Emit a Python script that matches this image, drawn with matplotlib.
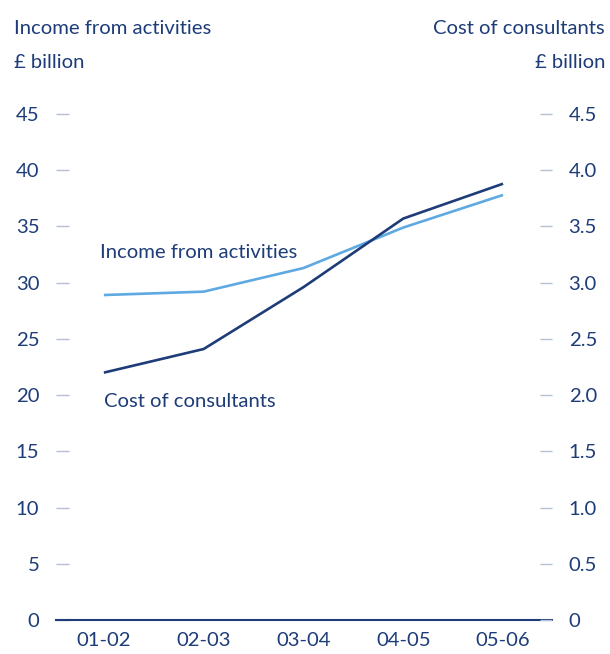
import matplotlib.pyplot as plt

years = ["01-02", "02-03", "03-04", "04-05", "05-06"]
income = [28.9, 29.2, 31.3, 34.9, 37.8]          # £ billion, left axis
consultants = [2.20, 2.41, 2.96, 3.57, 3.88]     # £ billion, right axis

left_ticks = [0, 5, 10, 15, 20, 25, 30, 35, 40, 45]
right_ticks = [0, 0.5, 1.0, 1.5, 2.0, 2.5, 3.0, 3.5, 4.0, 4.5]

NAVY = "#1d3c78"
LIGHT = "#5fa9e2"
TICK = "#b4c0d4"
FONT = "Lato"
FS = 14.6

plt.rcParams["font.family"] = [FONT, "DejaVu Sans"]

fig = plt.figure(figsize=(6.10, 6.54), dpi=100)
ax = fig.add_axes([0.0918, 0.052, 0.813, 0.7737])
ax2 = ax.twinx()

x = list(range(len(years)))
ax.plot(x, income, color=LIGHT, linewidth=1.9, solid_capstyle="butt")
ax2.plot(x, consultants, color=NAVY, linewidth=1.9, solid_capstyle="butt")

ax.set_xlim(-0.48, 4.49)
ax.set_ylim(0, 45)
ax2.set_ylim(0, 4.5)

ax.set_xticks(x)
ax.set_xticklabels(years)
ax.set_yticks(left_ticks)
ax.set_yticklabels([str(t) for t in left_ticks])
ax2.set_yticks(right_ticks)
ax2.set_yticklabels(["0"] + [f"{t:.1f}" for t in right_ticks[1:]])

for a in (ax, ax2):
    for side in ("top", "left", "right"):
        a.spines[side].set_visible(False)
    a.spines["bottom"].set_color(NAVY)
    a.spines["bottom"].set_linewidth(1.5)
    a.tick_params(axis="y", direction="in", length=9, width=1, color=TICK,
                  labelsize=FS, labelcolor=NAVY, pad=12)
ax.tick_params(axis="x", length=0, labelsize=FS, labelcolor=NAVY, pad=9)
ax2.spines["bottom"].set_visible(False)

# labels next to the lines
ax.text(-0.04, 32.7, "Income from activities", color=NAVY, fontsize=FS,
        ha="left", va="center")
ax.text(0.0, 19.4, "Cost of consultants", color=NAVY, fontsize=FS,
        ha="left", va="center")

# axis headings
fig.text(14 / 610, 1 - 28 / 654, "Income from activities", color=NAVY,
         fontsize=FS, ha="left", va="center")
fig.text(14 / 610, 1 - 62 / 654, "£ billion", color=NAVY,
         fontsize=FS, ha="left", va="center")
fig.text(605 / 610, 1 - 28 / 654, "Cost of consultants", color=NAVY,
         fontsize=FS, ha="right", va="center")
fig.text(605 / 610, 1 - 62 / 654, "£ billion", color=NAVY,
         fontsize=FS, ha="right", va="center")

fig.savefig("out.png", dpi=100)
